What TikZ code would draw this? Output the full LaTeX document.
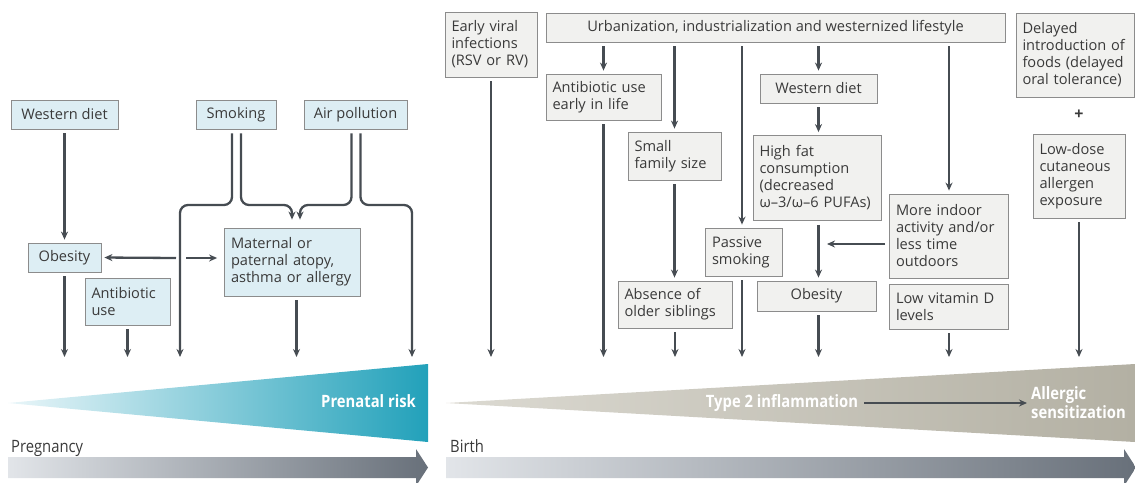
\documentclass[tikz,border=0pt]{standalone}
\usepackage{fontspec}
\setmainfont{Open Sans}
\usepackage{graphicx}
\usetikzlibrary{arrows.meta}
\definecolor{txt}{HTML}{3A3A3A}
\definecolor{edge}{HTML}{8C8C8C}
\definecolor{bluebox}{HTML}{DDEEF4}
\definecolor{greybox}{HTML}{F1F1EF}
\definecolor{arr}{HTML}{464C52}
\definecolor{tealL}{HTML}{EAF6F9}
\definecolor{tealR}{HTML}{22A1BA}
\definecolor{sandL}{HTML}{DCDAD2}
\definecolor{sandR}{HTML}{B3B0A3}
\definecolor{barL}{HTML}{E2E5E9}
\definecolor{barR}{HTML}{68707A}
\newcommand{\cond}[1]{\scalebox{0.87}[1]{#1}}

\begin{document}
\begin{tikzpicture}[>={Stealth[length=8pt,width=7pt]}, x=1pt, y=-1pt,
  every node/.style={font=\fontsize{14.6}{17}\selectfont, text=txt},
  box/.style={draw=edge, line width=0.8pt, inner xsep=6.5pt, inner ysep=0pt, align=left},
  lbox/.style={box, fill=bluebox},
  rbox/.style={box, fill=greybox},
  flow/.style={->, draw=arr, line width=2.3pt, shorten >=3pt, shorten <=4pt},
  band/.style={text=white, font=\bfseries\fontsize{17}{19}\selectfont, inner sep=0pt},
  stage/.style={font=\fontsize{17}{19}\selectfont, anchor=base west, inner sep=0pt}]
\useasboundingbox (0,0) rectangle (1135,482);

% prenatal side
\node[lbox, minimum width=107pt, minimum height=29pt] (ldiet) at (64.5,114.5) {Western diet};
\node[lbox, minimum width=80pt, minimum height=29pt] (lsmoke) at (236,114.5) {Smoking};
\node[lbox, minimum width=103pt, minimum height=29pt] (lpoll) at (355.5,114.5) {Air pollution};
\node[lbox, minimum width=73pt, minimum height=29pt] (lobes) at (64.5,257.5) {Obesity};
\node[lbox, text width=72pt, minimum height=47pt] (lanti) at (127.5,301.5) {Antibiotic\\use};
\node[lbox, text width=123pt, minimum height=68pt] (lmat) at (292.5,262) {Maternal~or\\paternal~atopy,\\asthma~or~allergy};

\coordinate (lb) at (0,360);
\coordinate (sl) at (180,205);
\coordinate (sr) at (292,205);
\coordinate (al) at (300,205);
\coordinate (ar) at (412,205);
\coordinate (ox) at (181,258);

\draw[flow] (ldiet) -- (lobes);
\draw[flow] (lobes.south) -- (lobes.south |- lb);
\draw[flow] (lanti.south) -- (lanti.south |- lb);
\draw[flow, rounded corners=8pt] ([xshift=-4pt]lsmoke.south) |- (sl) -- (sl |- lb);
\draw[flow, rounded corners=8pt, shorten >=8pt] ([xshift=5pt]lsmoke.south) |- (sr) -- (sr |- lmat.north);
\draw[flow, rounded corners=8pt, shorten >=8pt] ([xshift=-4pt]lpoll.south) |- (al) -- (al |- lmat.north);
\draw[flow, rounded corners=8pt] ([xshift=5pt]lpoll.south) |- (ar) -- (ar |- lb);
\draw[flow, shorten <=0pt] ([xshift=-5pt]ox) -- (lobes.east);
\draw[flow, shorten <=0pt, shorten >=7pt] ([xshift=5pt]ox) -- (lmat.west |- ox);
\draw[flow] ([xshift=4pt]lmat.south) -- ([xshift=4pt]lmat.south |- lb);

% postnatal side
\node[rbox, text width=79pt, minimum height=65pt] (viral) at (491,44.5) {Early~viral\\infections\\(RSV~or~RV)};
\node[rbox, minimum width=459pt, minimum height=29pt] (urban) at (775.5,27.5) {Urbanization, industrialization and westernized lifestyle};
\node[rbox, text width=105pt, minimum height=84pt] (delay) at (1075,55) {Delayed\\introduction~of\\foods~(delayed\\oral~tolerance)};
\node[font=\bfseries\fontsize{16}{17}\selectfont] (plus) at (1079,115) {+};
\node[rbox, text width=79pt, minimum height=84pt] (lowdose) at (1079,176) {Low-dose\\cutaneous\\allergen\\exposure};
\node[rbox, text width=102pt, minimum height=46pt] (rantib) at (603.5,97) {Antibiotic~use\\early~in~life};
\node[rbox, minimum width=117pt, minimum height=29pt] (rdiet) at (818.5,88.5) {Western diet};
\node[rbox, text width=80pt, minimum height=48pt] (family) at (674.5,156) {Small\\family~size};
\node[rbox, text width=115pt, minimum height=85pt] (fat) at (817,178) {High~fat\\consumption\\(decreased\\ω–3/ω–6~PUFAs)};
\node[rbox, text width=106pt, minimum height=84pt] (indoor) at (949,236) {More~indoor\\activity~and/or\\less~time\\outdoors};
\node[rbox, text width=64pt, minimum height=48pt] (passive) at (744,252) {Passive\\smoking};
\node[rbox, text width=101pt, minimum height=47pt] (absence) at (675,304.5) {Absence~of\\older~siblings};
\node[rbox, minimum width=119pt, minimum height=30pt] (robes) at (816.5,296) {Obesity};
\node[rbox, text width=106pt, minimum height=45pt] (vitd) at (949,306.5) {Low~vitamin~D\\levels};

\coordinate (ia) at (824,244);

\draw[flow] (viral.south) -- (viral.south |- lb);
\draw[flow] (urban.south -| rantib) -- (rantib.north);
\draw[flow] (rantib.south) -- (rantib.south |- lb);
\draw[flow] (urban.south -| family) -- (family.north);
\draw[flow] (family.south) -- (family.south |- absence.north);
\draw[flow] (absence.south) -- (absence.south |- lb);
\draw[flow] ([xshift=-2pt]urban.south -| passive) -- ([xshift=-2pt]passive.north);
\draw[flow] ([xshift=-2pt]passive.south) -- ([xshift=-2pt]passive.south |- lb);
\draw[flow] (urban.south -| rdiet) -- (rdiet.north);
\draw[flow] (rdiet.south) -- (rdiet.south |- fat.north);
\draw[flow] (rdiet.south |- fat.south) -- (rdiet.south |- robes.north);
\draw[flow] (rdiet.south |- robes.south) -- (rdiet.south |- lb);
\draw[flow] (urban.south -| indoor) -- (indoor.north);
\draw[flow] (indoor.west |- ia) -- (ia);
\draw[flow] (vitd.south) -- (vitd.south |- lb);
\draw[flow] (lowdose.south) -- (lowdose.south |- lb);

% risk wedges
\shade[left color=tealL, right color=tealR] (8,403) -- (428,364) -- (428,442) -- cycle;
\node[band, anchor=east] (prenatal) at (416,401) {\cond{Prenatal risk}};
\shade[left color=sandL, right color=sandR] (446,403) -- (1135,364) -- (1135,442) -- cycle;
\node[band] (type2) at (782,403) {\cond{Type 2 inflammation}};
\node[band, anchor=west, align=left] (sens) at (1031,403) {\cond{Allergic}\\\cond{sensitization}};
\draw[->, draw=arr, line width=1.6pt, shorten >=4pt, shorten <=6pt] (type2) -- (sens);

% time axis
\shade[left color=barL, right color=barR] (8,457) -- (416,457) -- (416,449) -- (428,467.5) -- (416,486) -- (416,478) -- (8,478) -- cycle;
\node[stage] (preg) at (11,452) {\cond{Pregnancy}};
\shade[left color=barL, right color=barR] (446,457) -- (1124,457) -- (1124,449) -- (1136,467.5) -- (1124,486) -- (1124,478) -- (446,478) -- cycle;
\node[stage] (birth) at (450,452) {\cond{Birth}};
\end{tikzpicture}
\end{document}
